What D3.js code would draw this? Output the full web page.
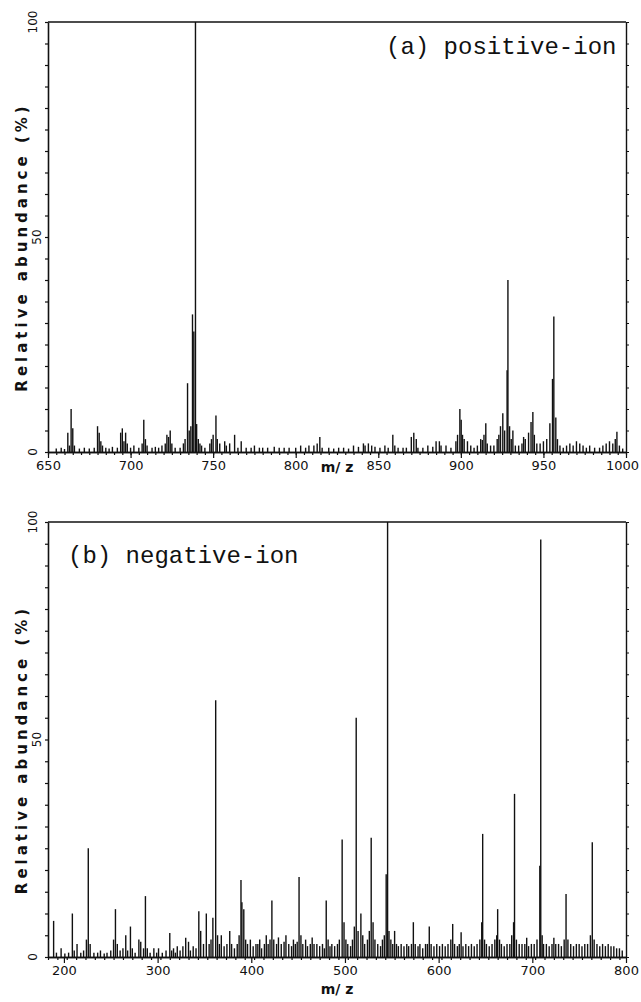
<!DOCTYPE html>
<html>
<head>
<meta charset="utf-8">
<script src="https://cdn.jsdelivr.net/npm/d3@7"></script>
<style>
  body { margin: 0; background: #fff; }
  svg { display: block; }
</style>
</head>
<body>
<div id="chart"></div>
<script>
// (a) positive-ion spectrum: [m/z, relative abundance %]
const posPeaks = [
  [655, 0.8], [658, 1], [660, 0.7], [662, 4.5], [663, 1.5], [664, 10], [665, 5.5], [666, 1.5],
  [669, 0.8], [672, 1], [675, 0.8], [678, 1], [680, 6], [681, 4.5], [682, 2.5], [683, 1.5],
  [685, 1], [687, 0.8], [689, 1.2], [692, 1], [694, 4.5], [695, 5.5], [696, 2.5], [697, 4.5],
  [698, 2], [700, 1], [702, 1.5], [705, 1], [707, 2], [708, 7.5], [709, 3], [710, 1.5],
  [713, 1], [715, 1.2], [717, 1], [719, 1.5], [721, 2], [722, 4], [723, 3.5], [724, 5],
  [725, 2], [727, 1], [730, 1], [732, 2], [733, 3], [734.5, 16], [735.5, 5], [736.5, 6],
  [737.5, 32], [738.3, 28], [739.3, 100], [740, 6.5], [741, 3], [742, 2], [743, 1.5], [745, 1],
  [748, 2], [749, 3], [750, 4], [751.7, 8.5], [752.5, 3], [754, 2], [757, 2.5], [758, 1.5],
  [760, 2], [763, 4], [765, 1], [767, 2.5], [770, 1], [773, 1], [775, 1.5], [778, 1],
  [780, 1], [783, 1], [787, 1.2], [790, 1], [793, 1], [796, 1], [800, 1], [803, 1.5],
  [806, 1], [808, 1.5], [811, 1.5], [813, 2], [814.6, 3.5], [816, 1], [820, 1], [823, 0.8],
  [826, 1], [829, 1], [832, 0.8], [835, 1.5], [838, 1.2], [841, 2], [842, 1.5], [844, 2],
  [846, 1.5], [848, 1.2], [851, 1], [854, 1.5], [856, 1], [858.8, 4], [860, 1.5], [862, 1],
  [865, 1], [867, 1], [870, 3.5], [871.5, 4.5], [873, 3], [874, 1], [877, 1], [880, 1.5],
  [883, 1.2], [885, 2.5], [887, 2.5], [888, 1.5], [891, 1.5], [894, 1], [897, 2.5], [898, 4],
  [899.4, 10], [900.2, 7.5], [901, 4], [902, 3], [904, 2.5], [906, 1.5], [908, 1], [910, 1.5],
  [912, 3], [913, 2.8], [914, 4], [915.1, 6.7], [916, 2], [918, 1.5], [920, 1.5], [922, 3],
  [923, 4], [924, 6], [925.4, 9], [926.5, 5], [928, 19], [928.5, 40], [929.5, 6], [930.5, 3],
  [931.5, 5], [933, 1.5], [935, 1.5], [937, 2], [938, 3.5], [939, 3], [941, 4.5], [942.5, 7],
  [943.6, 9.3], [944.5, 4], [946, 2], [948, 2], [950, 2.5], [952, 3], [953.9, 6.7], [955.5, 17],
  [956.3, 31.5], [957.5, 8], [958.5, 3], [960, 1.5], [962, 1], [964, 1.5], [966, 2], [968, 1.5],
  [970, 2.5], [972, 2], [974, 1.5], [976, 1], [978, 1.5], [981, 1], [984, 1], [986, 1.5],
  [988, 2], [990, 2.5], [992, 2], [993.5, 3], [994.5, 4.7], [996, 1.5], [998, 0.8]
];

// (b) negative-ion spectrum: [m/z, relative abundance %]
const negPeaks = [
  [189, 8.3], [192, 1], [197, 2], [201, 0.8], [205, 1], [209, 10], [211, 1.5], [214, 3],
  [218, 1], [221, 1.5], [224, 4], [226, 25], [228, 3], [232, 1], [236, 1], [239, 1.5],
  [243, 0.8], [246, 1], [250, 1.5], [253, 4], [255, 11], [257, 3], [260, 1.5], [263, 2],
  [266, 5], [268, 1.5], [271, 7], [273, 2], [276, 1], [280, 4], [282, 3.5], [285, 2],
  [287, 14], [289, 2], [292, 1], [296, 2], [299, 1], [301, 2], [305, 1], [309, 1.5],
  [313, 5.5], [315, 1.5], [317, 2], [319, 1], [321, 2.5], [324, 1.5], [327, 2.5], [330, 4.4],
  [333, 3.5], [335, 1.5], [338, 2.5], [341, 2], [344, 10.5], [346, 6], [349, 3], [352, 10],
  [355, 3], [357, 4], [359, 9], [362, 59], [364, 5], [366, 3], [368, 5], [371, 2.5],
  [374, 3], [377, 6], [379, 3], [382, 2], [385, 3], [387, 5], [389, 17.7], [390, 12.6],
  [392, 11], [394, 4], [396, 3], [399, 4], [402, 2.5], [405, 3], [407, 3], [409, 4],
  [411, 2], [414, 3], [416, 5], [418, 3], [420, 4], [422, 13], [424, 4], [427, 3],
  [429, 4.5], [432, 3], [435, 3.5], [437, 5], [440, 3], [443, 2.5], [445, 4], [447, 3],
  [449, 3.5], [451, 18.4], [453, 5], [455, 3], [458, 4], [460, 2.5], [463, 3], [465, 4.5],
  [467, 3], [470, 3], [473, 2.5], [476, 3], [478, 2], [480, 13], [482, 4], [484, 2.5],
  [486, 3], [489, 2.5], [492, 3], [494, 4], [497, 27], [499, 8], [501, 4], [503, 3],
  [506, 2.5], [508, 4], [510, 7], [512, 55], [514, 6], [517, 10], [519, 5], [521, 3],
  [524, 4], [526, 6], [528, 27.4], [530, 8], [532, 4], [535, 3], [538, 2.5], [540, 4],
  [542, 5], [544, 19], [545.5, 100], [547, 6], [549, 4], [551, 3], [553, 6], [555, 3],
  [557, 2.5], [560, 3], [563, 2.5], [566, 3], [568, 2.5], [571, 3], [573, 8], [575, 3],
  [578, 2.5], [580, 3], [583, 2], [586, 3], [588, 3], [590, 7], [592, 3], [595, 2.5],
  [598, 3], [601, 2.5], [604, 3], [607, 2.5], [610, 3], [613, 4], [615, 7.6], [617, 3],
  [620, 2.5], [622, 3], [624, 5.7], [626, 2.5], [629, 3], [632, 2.5], [635, 3], [638, 2.5],
  [641, 3], [644, 4], [646, 8], [647, 28.3], [649, 4], [651, 3], [654, 2.5], [657, 3],
  [660, 4], [662, 5], [663, 11], [665, 4], [667, 3], [670, 2.5], [673, 3], [676, 3],
  [678, 5], [680, 8], [681, 37.5], [683, 4], [686, 3], [689, 3], [692, 3], [694, 4.4],
  [696, 2.5], [699, 3], [702, 3], [705, 4], [708, 21], [709, 96], [710.5, 5], [712, 3],
  [715, 3], [718, 2.5], [721, 3], [723, 4.4], [725, 3], [728, 3], [731, 2.5], [734, 4],
  [736, 14.5], [738, 4], [741, 3], [744, 2.5], [747, 3], [750, 3], [753, 2.5], [756, 3],
  [759, 3], [762, 5], [764, 26.4], [766, 4], [769, 3], [772, 2.5], [775, 3], [778, 2.5],
  [781, 3], [784, 2.5], [787, 2.5], [790, 2], [793, 2], [796, 1.5]
];

const posXTicks = [650, 700, 750, 800, 850, 900, 950, 1000];
const negXTicks = [200, 300, 400, 500, 600, 700, 800];
const yTickLabels = [0, 50, 100];

const svg = d3.select("#chart").append("svg")
    .attr("width", 641)
    .attr("height", 1002);

const ink = "#111";

function drawPanel(p) {
    const x = d3.scaleLinear().domain(p.domain).range([48, 626]);
    const y = d3.scaleLinear().domain([0, 100]).range([p.bottom, p.top]);
    const g = svg.append("g");

    // peaks
    g.selectAll(".peak")
        .data(p.peaks)
        .enter().append("line")
        .attr("class", "peak")
        .attr("x1", d => x(d[0]))
        .attr("x2", d => x(d[0]))
        .attr("y1", y(0))
        .attr("y2", d => y(d[1]))
        .attr("stroke", ink)
        .attr("stroke-width", 1.4);

    // bottom axis: minor ticks then labelled ticks
    const bx = g.append("g").attr("transform", `translate(0,${p.bottom})`);
    bx.call(d3.axisBottom(x).tickValues(d3.range(p.domain[0], p.domain[1] + 0.1, p.minor))
        .tickSize(3).tickSizeOuter(0).tickFormat(""));
    const bl = g.append("g").attr("transform", `translate(0,${p.bottom})`);
    bl.call(d3.axisBottom(x).tickValues(p.ticks).tickSize(6).tickSizeOuter(0)
        .tickPadding(3).tickFormat(d3.format("d")));
    bl.selectAll("text")
        .style("font-family", "DejaVu Sans, sans-serif")
        .style("font-size", "13px")
        .attr("fill", ink)
        .attr("dx", d => d === 1000 ? -4 : 0);
    g.selectAll(".domain").attr("stroke", ink).attr("stroke-width", 1.6);
    g.selectAll(".tick line").attr("stroke", ink).attr("stroke-width", 1.2);

    // left axis
    const ly = g.append("g").attr("transform", "translate(48,0)");
    ly.call(d3.axisLeft(y).tickValues(d3.range(0, 101, 5)).tickSize(3).tickSizeOuter(0).tickFormat(""));
    ly.select(".domain").attr("stroke", ink).attr("stroke-width", 1.6);
    ly.selectAll(".tick line").attr("stroke", ink).attr("stroke-width", 1.2);

    g.selectAll(".ylab")
        .data(yTickLabels)
        .enter().append("text")
        .attr("transform", d => `translate(${d === 50 ? 41 : 37},${y(d)}) rotate(-90)`)
        .attr("text-anchor", "middle")
        .style("font-family", "DejaVu Sans, sans-serif")
        .style("font-size", "12px")
        .attr("fill", ink)
        .text(d => d);

    // right frame with inward ticks
    const ry = g.append("g").attr("transform", "translate(626,0)");
    ry.call(d3.axisLeft(y).tickValues(d3.range(0, 101, 5)).tickSize(-3).tickSizeOuter(0).tickFormat(""));
    ry.select(".domain").attr("stroke", ink).attr("stroke-width", 1.4);
    ry.selectAll(".tick line").attr("stroke", ink);

    // top frame
    g.append("line")
        .attr("x1", 48).attr("x2", 626)
        .attr("y1", p.top).attr("y2", p.top)
        .attr("stroke", ink).attr("stroke-width", 1.6);

    // axis titles
    g.append("text")
        .attr("transform", `translate(27,${(p.top + p.bottom) / 2 + 10}) rotate(-90)`)
        .attr("text-anchor", "middle")
        .style("font-family", "DejaVu Sans, sans-serif")
        .style("font-size", "15px")
        .style("font-weight", "bold")
        .style("letter-spacing", "4px")
        .attr("fill", ink)
        .text("Relative abundance (%)");

    g.append("text")
        .attr("x", 337)
        .attr("y", p.bottom + p.mzOffset)
        .attr("text-anchor", "middle")
        .style("font-family", "DejaVu Sans, sans-serif")
        .style("font-size", "14px")
        .style("font-weight", "bold")
        .attr("fill", ink)
        .text("m/ z");

    g.append("text")
        .attr("x", p.labelX)
        .attr("y", p.labelY)
        .style("font-family", "Liberation Mono, monospace")
        .style("font-size", "24px")
        .attr("fill", ink)
        .text(p.label);
}

drawPanel({
    peaks: posPeaks, domain: [650, 1000], ticks: posXTicks, minor: 5,
    top: 22, bottom: 452, mzOffset: 20,
    label: "(a) positive-ion", labelX: 386, labelY: 54
});

drawPanel({
    peaks: negPeaks, domain: [183, 800], ticks: negXTicks, minor: 10,
    top: 522, bottom: 957, mzOffset: 37,
    label: "(b) negative-ion", labelX: 68, labelY: 563
});
</script>
</body>
</html>
